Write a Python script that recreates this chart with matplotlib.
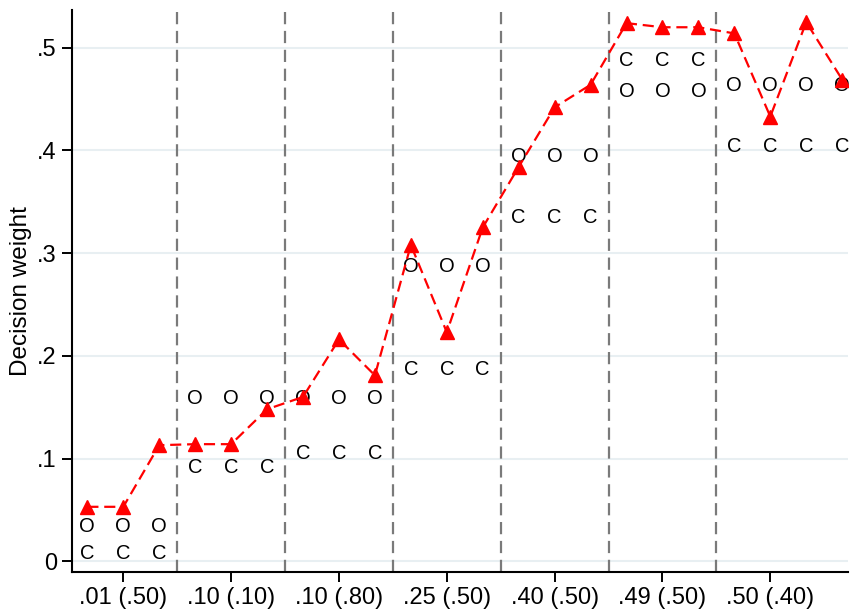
import matplotlib.pyplot as plt

plt.rcParams['font.family'] = ['Liberation Sans', 'DejaVu Sans']

# data
group_labels = ['.01 (.50)', '.10 (.10)', '.10 (.80)', '.25 (.50)', '.40 (.50)', '.49 (.50)', '.50 (.40)']
group_sizes = [3, 3, 3, 3, 3, 3, 4]

weights = [0.053, 0.053, 0.113,
           0.114, 0.114, 0.148,
           0.160, 0.216, 0.181,
           0.308, 0.223, 0.325,
           0.384, 0.442, 0.464,
           0.524, 0.520, 0.520,
           0.514, 0.433, 0.525, 0.469]
o_vals = [0.034, 0.158, 0.158, 0.287, 0.394, 0.457, 0.463]
c_vals = [0.008, 0.091, 0.105, 0.187, 0.335, 0.488, 0.404]

x = list(range(1, len(weights) + 1))

fig = plt.figure(figsize=(8.5, 6.12), dpi=100)
ax = fig.add_axes([0.085, 0.065, 0.913, 0.919])

for v in [0, .1, .2, .3, .4, .5]:
    ax.axhline(v, color='#e8eff2', lw=1.5, zorder=0)

# group separators, O/C labels, tick positions
start = 1
ticks = []
for i, n in enumerate(group_sizes):
    xs = range(start, start + n)
    for xi in xs:
        ax.text(xi, o_vals[i], 'O', ha='center', va='center', fontsize=14.5, zorder=2)
        ax.text(xi, c_vals[i], 'C', ha='center', va='center', fontsize=14.5, zorder=2)
    ticks.append(start + 1)
    if i < len(group_sizes) - 1:
        ax.axvline(start + n - 0.5, color='#7a7a7a', lw=1.6, dashes=(5.5, 3), zorder=1)
    start += n

ax.plot(x, weights, color='red', lw=1.6, dashes=(5, 2.6), marker='^', ms=10, zorder=3)

ax.set_xlim(0.58, 22.17)
ax.set_ylim(-0.0107, 0.537)
ax.set_xticks(ticks)
ax.set_xticklabels(group_labels)
ax.set_yticks([0, .1, .2, .3, .4, .5])
ax.set_yticklabels(['0', '.1', '.2', '.3', '.4', '.5'])
ax.tick_params(labelsize=17, length=7, width=1.4, direction='out', pad=4)
ax.set_ylabel('Decision weight', fontsize=17.5, labelpad=4)

for s in ['top', 'right']:
    ax.spines[s].set_visible(False)
for s in ['left', 'bottom']:
    ax.spines[s].set_linewidth(1.5)

fig.savefig('out.png', dpi=100)
